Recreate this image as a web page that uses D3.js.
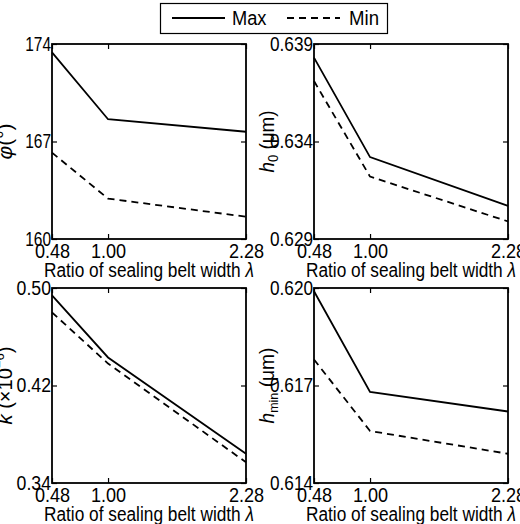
<!DOCTYPE html>
<html><head><meta charset="utf-8">
<script src="https://cdn.jsdelivr.net/npm/d3@7"></script>
<style>body{margin:0;background:#fff}svg{font-family:"Liberation Sans",Arial,sans-serif}</style>
</head><body><svg width="520" height="524"></svg>
<script>
const lambdas = [0.48, 1.00, 2.28];
const xTicks = ["0.48", "1.00", "2.28"];

const phiMax = [173.4, 168.6, 167.7];
const phiMin = [166.2, 162.9, 161.6];
const h0Max = [0.6383, 0.6332, 0.6307];
const h0Min = [0.6371, 0.6322, 0.6299];
const kMax = [0.494, 0.443, 0.364];
const kMin = [0.480, 0.438, 0.357];
const hminMax = [0.6199, 0.6168, 0.6162];
const hminMin = [0.6178, 0.6156, 0.6149];

const panels = [
  {x: 52, y: 44, max: phiMax, min: phiMin, dom: [160, 174], ticks: ["160","167","174"], label: "phi"},
  {x: 314, y: 44, max: h0Max, min: h0Min, dom: [0.629, 0.639], ticks: ["0.629","0.634","0.639"], label: "h0"},
  {x: 52, y: 288, max: kMax, min: kMin, dom: [0.34, 0.50], ticks: ["0.34","0.42","0.50"], label: "k"},
  {x: 314, y: 288, max: hminMax, min: hminMin, dom: [0.614, 0.620], ticks: ["0.614","0.617","0.620"], label: "hmin"}
];
const W = 194, H = 195;
const svg = d3.select("svg");

// narrow text: squeeze to a given width per character
function squeeze(sel, perChar) {
  sel.each(function () {
    const t = d3.select(this);
    t.attr("textLength", t.text().length * perChar).attr("lengthAdjust", "spacingAndGlyphs");
  });
}

// legend
const lg = svg.append("g");
lg.append("rect").attr("x", 160.5).attr("y", 3.5).attr("width", 227).attr("height", 30)
  .attr("fill", "#fff").attr("stroke", "#000").attr("stroke-width", 1.2);
lg.append("line").attr("x1", 172).attr("x2", 225).attr("y1", 18).attr("y2", 18).attr("stroke", "#000").attr("stroke-width", 1.8);
lg.append("text").attr("x", 232).attr("y", 25).attr("font-size", 20).text("Max").call(squeeze, 11.5);
lg.append("line").attr("x1", 287).attr("x2", 340).attr("y1", 18).attr("y2", 18).attr("stroke", "#000").attr("stroke-width", 1.8).attr("stroke-dasharray", "7,5");
lg.append("text").attr("x", 349).attr("y", 25).attr("font-size", 20).text("Min").call(squeeze, 10);

panels.forEach(p => {
  const g = svg.append("g").attr("transform", `translate(${p.x},${p.y})`);
  const x = d3.scaleLinear().domain([0.48, 2.28]).range([0, W]);
  const y = d3.scaleLinear().domain(p.dom).range([H, 0]);
  const tv = p.ticks.map(Number);

  const gb = g.append("g").attr("transform", `translate(0,${H})`)
    .call(d3.axisBottom(x).tickValues(lambdas).tickSize(-5).tickFormat((d, i) => xTicks[i]));
  const gl = g.append("g")
    .call(d3.axisLeft(y).tickValues(tv).tickSize(-5).tickFormat((d, i) => p.ticks[i]));
  g.append("g").call(d3.axisTop(x).tickValues(lambdas).tickSize(-5).tickFormat(""));
  g.append("g").attr("transform", `translate(${W},0)`).call(d3.axisRight(y).tickValues(tv).tickSize(-5).tickFormat(""));
  g.selectAll(".domain").remove();
  g.selectAll(".tick line").attr("stroke", "#000").attr("stroke-width", 1.2);
  gb.selectAll("text").attr("font-size", 20).attr("fill", "#000").attr("dy", "0.9em").attr("y", 1).call(squeeze, 8.8);
  gl.selectAll("text").attr("font-size", 20).attr("fill", "#000").attr("x", -1).call(squeeze, 8.6);

  g.append("rect").attr("width", W).attr("height", H).attr("fill", "none").attr("stroke", "#000").attr("stroke-width", 1.8);

  const line = d3.line().x((d, i) => x(lambdas[i])).y(d => y(d));
  g.append("path").attr("d", line(p.max)).attr("fill", "none").attr("stroke", "#000").attr("stroke-width", 1.8);
  g.append("path").attr("d", line(p.min)).attr("fill", "none").attr("stroke", "#000").attr("stroke-width", 1.8).attr("stroke-dasharray", "7,5");

  g.append("text").attr("x", W / 2).attr("y", H + 38).attr("text-anchor", "middle").attr("font-size", 20)
    .attr("textLength", 210).attr("lengthAdjust", "spacingAndGlyphs")
    .html('Ratio of sealing belt width <tspan font-style="italic">λ</tspan>');

  const yl = g.append("text").attr("transform", `translate(-40,${H / 2}) rotate(-90)`).attr("text-anchor", "middle").attr("font-size", 20);
  if (p.label === "phi") {
    yl.append("tspan").attr("font-style", "italic").text("φ");
    yl.append("tspan").text("(°)");
  } else if (p.label === "h0") {
    yl.append("tspan").attr("font-style", "italic").text("h");
    yl.append("tspan").attr("font-size", 14).attr("dy", 4).text("0");
    yl.append("tspan").attr("dy", -4).text(" (μm)");
  } else if (p.label === "k") {
    yl.append("tspan").attr("font-style", "italic").text("k");
    yl.append("tspan").text(" (×10");
    yl.append("tspan").attr("font-size", 13).attr("dy", -8).text("−6");
    yl.append("tspan").attr("dy", 8).text(")");
  } else {
    yl.append("tspan").attr("font-style", "italic").text("h");
    yl.append("tspan").attr("font-size", 13).attr("dy", 4).text("min");
    yl.append("tspan").attr("dy", -4).text(" (μm)");
  }
  yl.attr("textLength", p.label === "phi" ? 36 : p.label === "h0" ? 62 : p.label === "k" ? 78 : 76).attr("lengthAdjust", "spacingAndGlyphs");
});
</script></body></html>
